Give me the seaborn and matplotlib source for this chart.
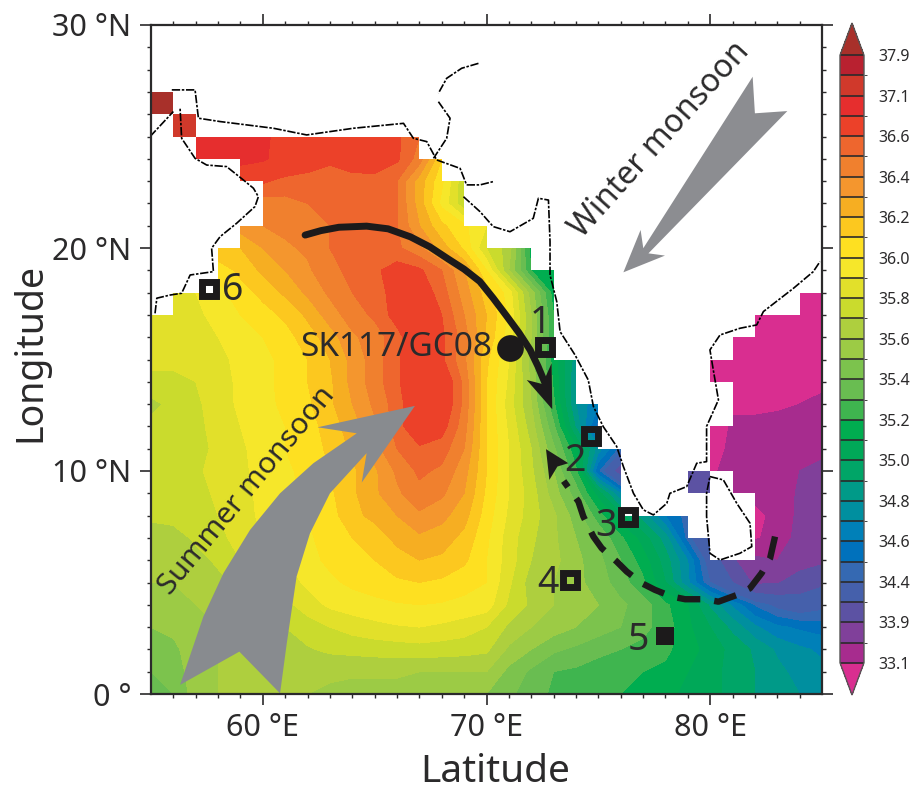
import numpy as np
import seaborn as sns
import matplotlib.pyplot as plt
from matplotlib.colors import ListedColormap, BoundaryNorm

lon_nodes = np.arange(55, 86)
lat_nodes = np.arange(0, 28)

# salinity, one row per degree of latitude, lon 55..85
sal_00 = [35.35,35.40,35.55,35.60,35.62,35.65,35.65,35.60,35.58,35.55,35.55,35.55,35.55,35.52,35.50,35.50,35.42,35.35,35.28,35.25,35.22,35.20,35.15,35.12,35.08,35.02,34.98,34.90,34.85,34.80,34.78]
sal_01 = [35.40,35.45,35.55,35.60,35.63,35.65,35.65,35.63,35.62,35.62,35.62,35.62,35.60,35.60,35.60,35.60,35.47,35.38,35.30,35.28,35.25,35.22,35.20,35.18,35.10,35.03,34.97,34.90,34.83,34.76,34.73]
sal_02 = [35.45,35.48,35.55,35.60,35.62,35.64,35.66,35.69,35.72,35.73,35.74,35.75,35.76,35.75,35.74,35.72,35.58,35.50,35.42,35.38,35.33,35.30,35.27,35.22,35.15,35.05,34.97,34.88,34.78,34.72,34.68]
sal_03 = [35.50,35.52,35.57,35.60,35.63,35.67,35.70,35.75,35.80,35.84,35.87,35.89,35.90,35.88,35.85,35.80,35.68,35.60,35.55,35.50,35.45,35.40,35.33,35.25,35.12,35.00,34.87,34.72,34.62,34.58,34.55]
sal_04 = [35.55,35.55,35.60,35.63,35.68,35.72,35.77,35.85,35.92,35.95,35.97,35.99,36.00,35.99,35.97,35.95,35.78,35.68,35.60,35.56,35.50,35.42,35.35,35.22,35.10,34.88,34.68,34.48,34.35,34.28,34.35]
sal_05 = [35.60,35.60,35.63,35.67,35.73,35.80,35.85,35.92,35.98,36.02,36.05,36.08,36.10,36.08,36.04,36.00,35.82,35.65,35.60,35.53,35.45,35.35,35.22,35.00,34.72,34.40,34.15,33.85,33.88,34.00,34.10]
sal_06 = [35.65,35.62,35.66,35.72,35.80,35.85,35.90,35.97,36.02,36.07,36.10,36.17,36.20,36.18,36.12,36.00,35.85,35.70,35.63,35.53,35.43,35.30,35.15,34.95,34.70,34.30,33.95,33.60,33.50,33.80,33.85]
sal_07 = [35.65,35.65,35.72,35.77,35.84,35.90,35.93,35.98,36.05,36.10,36.16,36.22,36.28,36.25,36.17,36.02,35.85,35.72,35.62,35.50,35.38,35.22,35.05,34.85,34.45,34.10,33.90,33.05,33.25,33.65,33.70]
sal_08 = [35.72,35.74,35.76,35.80,35.86,35.92,35.97,36.00,36.05,36.18,36.22,36.30,36.38,36.33,36.24,36.05,35.88,35.75,35.62,35.45,35.25,35.02,34.85,34.60,34.45,34.20,33.60,33.00,33.20,33.60,33.55]
sal_09 = [35.75,35.76,35.78,35.81,35.86,35.93,35.97,36.02,36.08,36.18,36.28,36.38,36.47,36.42,36.30,36.08,35.90,35.75,35.55,35.35,35.05,34.70,34.70,34.20,34.00,34.00,33.20,33.20,33.30,33.55,33.55]
sal_10 = [35.76,35.77,35.79,35.82,35.88,35.93,35.98,36.03,36.10,36.18,36.28,36.42,36.52,36.48,36.34,36.10,35.90,35.72,35.50,35.22,34.50,34.00,34.00,34.00,33.50,33.05,33.20,33.25,33.30,33.50,33.55]
sal_11 = [35.75,35.75,35.77,35.82,35.88,35.95,36.00,36.05,36.12,36.22,36.36,36.50,36.58,36.55,36.40,36.10,35.90,35.70,35.42,35.12,34.75,34.45,34.00,33.50,33.00,33.00,33.15,33.25,33.30,33.40,33.45]
sal_12 = [35.72,35.72,35.77,35.84,35.90,35.96,36.00,36.05,36.15,36.25,36.38,36.55,36.72,36.65,36.44,36.10,35.88,35.65,35.32,34.88,34.45,34.40,33.50,33.00,33.00,33.00,33.12,33.20,33.20,33.20,33.30]
sal_13 = [35.68,35.72,35.78,35.85,35.92,35.97,36.02,36.08,36.18,36.30,36.42,36.55,36.72,36.72,36.47,36.10,35.85,35.60,35.22,34.80,34.60,34.50,33.50,33.00,33.00,33.00,33.08,33.00,33.05,33.10,33.20]
sal_14 = [35.75,35.75,35.80,35.86,35.92,35.97,36.03,36.10,36.18,36.33,36.45,36.58,36.72,36.72,36.47,36.10,35.88,35.58,35.18,34.80,34.70,34.50,33.50,33.00,33.00,32.90,32.90,32.90,32.90,32.90,33.00]
sal_15 = [35.85,35.85,35.86,35.88,35.92,35.97,36.03,36.10,36.20,36.33,36.45,36.58,36.72,36.62,36.42,36.12,35.90,35.55,35.15,34.85,34.70,34.50,33.50,33.00,33.00,32.90,32.90,32.90,32.90,32.90,32.90]
sal_16 = [35.87,35.87,35.88,35.90,35.96,36.00,36.06,36.15,36.25,36.38,36.45,36.56,36.72,36.62,36.45,36.18,35.95,35.60,35.20,34.90,34.70,34.50,33.50,33.00,33.00,32.90,32.90,32.90,32.90,32.90,32.90]
sal_17 = [35.85,35.86,35.88,35.93,36.00,36.06,36.12,36.22,36.35,36.45,36.52,36.65,36.72,36.60,36.40,36.20,35.98,35.60,35.20,34.90,34.70,34.50,33.50,33.00,33.00,32.90,32.90,32.90,32.90,32.90,32.90]
sal_18 = [35.85,35.85,35.90,35.97,36.05,36.13,36.22,36.32,36.42,36.50,36.55,36.65,36.68,36.55,36.35,36.15,35.95,35.55,35.15,35.00,35.00,35.00,35.00,35.00,35.00,32.90,32.90,32.90,32.90,32.90,32.90]
sal_19 = [36.00,36.00,36.00,36.03,36.13,36.22,36.30,36.38,36.48,36.52,36.58,36.65,36.62,36.50,36.30,36.00,35.60,35.20,35.10,35.00,35.00,35.00,35.00,35.00,35.00,35.00,35.00,35.00,35.00,35.00,35.00]
sal_20 = [36.20,36.20,36.20,36.20,36.20,36.30,36.38,36.42,36.50,36.52,36.54,36.52,36.42,36.25,36.08,35.80,35.65,35.15,35.10,35.00,35.00,35.00,35.00,35.00,35.00,35.00,35.00,35.00,35.00,35.00,35.00]
sal_21 = [36.35,36.35,36.35,36.35,36.35,36.40,36.43,36.48,36.50,36.55,36.56,36.50,36.30,36.12,36.02,35.90,35.65,35.15,35.10,35.00,35.00,35.00,35.00,35.00,35.00,35.00,35.00,35.00,35.00,35.00,35.00]
sal_22 = [36.42,36.42,36.42,36.42,36.42,36.45,36.47,36.50,36.54,36.55,36.56,36.50,36.25,35.97,35.72,35.75,35.65,35.15,35.10,35.00,35.00,35.00,35.00,35.00,35.00,35.00,35.00,35.00,35.00,35.00,35.00]
sal_23 = [36.70,36.70,36.70,36.70,36.60,36.62,36.56,36.55,36.55,36.55,36.56,36.50,36.25,36.02,35.72,35.70,35.65,35.15,35.10,35.00,35.00,35.00,35.00,35.00,35.00,35.00,35.00,35.00,35.00,35.00,35.00]
sal_24 = [36.95,36.95,36.95,36.95,36.95,36.88,36.75,36.68,36.62,36.68,36.68,36.62,36.45,36.10,36.00,35.70,35.65,35.15,35.10,35.00,35.00,35.00,35.00,35.00,35.00,35.00,35.00,35.00,35.00,35.00,35.00]
sal_25 = [37.00,37.00,36.95,36.95,36.95,36.90,36.75,36.70,36.70,36.70,36.70,36.62,36.50,36.05,36.00,35.70,35.65,35.15,35.10,35.00,35.00,35.00,35.00,35.00,35.00,35.00,35.00,35.00,35.00,35.00,35.00]
sal_26 = sal_25
sal_27 = sal_25

# contour levels and the colour of each band, low to high
levels = [33.1,33.5,33.9,34.15,34.4,34.5,34.6,34.7,34.8,34.9,35.0,35.1,35.2,35.3,35.4,35.5,35.6,35.7,35.8,35.9,36.0,36.1,36.2,36.3,36.4,36.5,36.6,36.85,37.1,37.5,37.9]
band_colors = ["#a72c8e","#80409a","#5c52a3","#4560ab","#3569b2","#0071bc","#0080b8","#008f9f","#009a88","#00a567",
               "#00a858","#00ad50","#3fb54f","#69bd51","#7cc34d","#9ccb45","#aecf3e","#cadb2d","#e2e02a","#f6e72a",
               "#fee021","#fcc81f","#f6ae22","#f4962e","#f0802e","#ee662e","#ec4129","#e62e2e","#d0392b","#b92130"]

# sea cells per latitude row, everything else is painted white
sea_cells = {0:[(55,85)],1:[(55,85)],2:[(55,85)],3:[(55,85)],4:[(55,85)],5:[(55,85)],
             6:[(55,80),(82,85)],7:[(55,79),(82,85)],8:[(55,76),(82,85)],9:[(55,76),(81,85)],
             10:[(55,76),(80,85)],11:[(55,75),(80,85)],12:[(55,75),(81,85)],13:[(55,74),(81,85)],
             14:[(55,74),(80,85)],15:[(55,73),(81,85)],16:[(55,73),(82,85)],17:[(56,73),(84,85)],
             18:[(58,73)],19:[(58,72)],20:[(59,70)],21:[(60,69)],22:[(60,69)],23:[(59,68)],24:[(57,67)]}
# isolated one degree cells: lon, lat, salinity
lone_cells = [(55,26,38.2),(56,25,37.3),(79,9,34.0)]

coast_main = [(55.18,17.07),(55.26,17.75),(55.85,17.89),(56.37,17.97),(56.75,18.79),(57.79,18.94),(57.71,19.99),(58.09,20.51),(58.83,21.11),(59.65,21.86),(59.8,22.3),(59.58,22.68),(59.13,23.05),(58.38,23.65),(57.49,23.72),(56.97,24.02),(56.37,24.92),(56.3,26.26)]
coast_oman = [(54.96,25.0),(56.0,26.12)]
coast_makran = [(55.93,27.09),(56.97,27.09),(57.12,25.82),(58.09,25.67),(60.47,25.37),(61.96,25.07),(64.05,25.37),(66.29,25.59),(66.73,24.92),(67.33,24.77),(67.77,23.95),(68.82,23.57),(69.11,22.83),(69.71,22.83),(70.31,22.98)]
coast_india = [(68.97,22.3),(69.71,21.63),(70.3,20.96),(71.05,20.73),(72.09,21.33),(72.32,22.23),(72.77,22.15),(72.84,20.29),(72.84,18.79),(73.14,17.6),(73.29,16.25),(73.96,15.2),(74.55,14.08),(74.78,12.89),(75.22,11.99),(75.82,11.1),(76.12,10.2),(76.57,9.0),(77.01,8.26),(77.46,8.03),(78.06,8.55),(78.2,9.0),(78.95,9.3),(79.4,10.35),(79.84,10.42),(79.84,12.0),(80.37,13.19),(80.14,14.53),(79.99,15.43),(80.44,16.1),(81.33,16.4),(82.08,16.55),(82.38,17.15),(83.72,18.19),(84.61,18.94),(84.91,19.39)]
coast_lanka = [(79.99,9.75),(80.59,9.6),(81.19,8.55),(81.78,7.66),(81.86,6.61),(81.33,6.31),(80.44,6.01),(79.99,6.31),(79.84,7.96),(79.84,9.0),(79.99,9.75)]
coast_indus = [(69.64,28.28),(68.89,28.06),(68.22,27.61),(67.85,26.94)]
coast_indus2 = [(67.85,26.56),(68.37,25.82),(68.22,24.92),(67.63,24.02)]

winter_arrow = [(76.12,18.91),(76.89,20.81),(77.01,19.99),(81.9,27.68),(82.0,26.04),(83.45,26.14),(77.24,19.76),(77.98,19.66)]
summer_arrow = [(66.8,12.92),(62.45,11.96),(64.2,11.69),(62.26,10.35),(60.77,9.0),(59.43,7.36),(58.24,5.42),(57.34,3.47),(56.3,0.41),(58.95,1.9),(60.77,0.03),(61.07,2.27),(61.51,5.27),(62.11,7.21),(63.0,9.0),(64.64,10.8),(64.42,9.48)]
solid_path = [(61.89,20.58),(62.6,20.78),(63.4,20.93),(64.64,20.98),(65.6,20.86),(66.6,20.5),(67.47,20.05),(68.3,19.5),(69.0,19.05),(69.7,18.5),(70.3,17.75),(70.9,16.95),(71.45,16.2),(71.95,15.43),(72.3,14.7),(72.65,13.86)]
solid_head = [(72.94,12.77),(71.8,14.08),(72.5,13.9),(72.91,14.83)]
dashed_path = [(82.9,7.06),(82.68,6.09),(82.3,5.42),(81.78,4.74),(81.19,4.44),(80.37,4.14),(79.77,4.25),(78.88,4.25),(78.28,4.37),(77.53,4.67),(76.94,4.97),(76.27,5.49),(75.82,5.94),(75.15,6.54),(74.78,7.06),(74.33,7.96),(74.11,8.63),(73.45,9.55)]
dashed_head = [(72.66,10.98),(72.81,9.6),(73.17,10.2),(73.66,10.35)]

station_lon = [72.61,74.67,76.32,73.73,57.59]
station_lat = [15.56,11.57,7.94,5.11,18.16]
solid_lon = [77.98]
solid_lat = [2.6]
core_lon = [71.05]
core_lat = [15.5]
number_names = ["1","2","3","4","5","6"]
number_lon = [72.4,73.95,75.35,72.75,76.8,58.65]
number_lat = [16.62,10.47,7.52,4.97,2.43,18.12]

sns.set_style("ticks")
plt.rcParams['font.family'] = ['Noto Sans', 'DejaVu Sans']
ink = "#2b2a2b"

fig = plt.figure(figsize=(9.12, 7.98), dpi=100)
ax = fig.add_axes([151/912, 104/798, 671/912, 669/798])
cax = fig.add_axes([840/912, 103/798, 24/912, 672/798])

salinity = np.array([sal_00,sal_01,sal_02,sal_03,sal_04,sal_05,sal_06,sal_07,sal_08,sal_09,
                     sal_10,sal_11,sal_12,sal_13,sal_14,sal_15,sal_16,sal_17,sal_18,sal_19,
                     sal_20,sal_21,sal_22,sal_23,sal_24,sal_25,sal_26,sal_27])

cmap = ListedColormap(band_colors)
cmap.set_under("#d92e90")
cmap.set_over("#a8302a")
norm = BoundaryNorm(levels, len(band_colors))
field = ax.contourf(lon_nodes, lat_nodes, salinity, levels=levels, cmap=cmap, norm=norm, extend='both', zorder=1)

# blocky land mask on top of the smooth field
lon_edges = np.arange(55, 86)
lat_edges = np.arange(0, 31)
land = np.ones((30, 30))
for row, spans in sea_cells.items():
    for start, end in spans:
        land[row, start-55:end-55] = np.nan
ax.pcolormesh(lon_edges, lat_edges, np.ma.masked_invalid(land), cmap=ListedColormap(["white"]), zorder=2, linewidth=0, antialiased=False)

lone = np.full((30, 30), np.nan)
for cell_lon, cell_lat, value in lone_cells:
    lone[cell_lat, cell_lon-55] = value
ax.pcolormesh(lon_edges, lat_edges, np.ma.masked_invalid(lone), cmap=cmap, norm=norm, zorder=3, linewidth=0, antialiased=False)

for segment in [coast_main, coast_oman, coast_makran, coast_india, coast_lanka, coast_indus, coast_indus2]:
    pts = np.array(segment)
    sns.lineplot(x=pts[:, 0], y=pts[:, 1], sort=False, estimator=None, color="black", linewidth=1.2,
                 linestyle=(0, (5, 1, 1.5, 1)), ax=ax, zorder=4)

ax.fill(*np.array(winter_arrow).T, color="#8c8d91", lw=0, zorder=5)
ax.fill(*np.array(summer_arrow).T, color="#888b8f", lw=0, zorder=5)

pts = np.array(solid_path)
sns.lineplot(x=pts[:, 0], y=pts[:, 1], sort=False, estimator=None, color="#1c1a1b", linewidth=5.0, ax=ax, zorder=6)
ax.fill(*np.array(solid_head).T, color="#1c1a1b", lw=0, zorder=6)
pts = np.array(dashed_path)
sns.lineplot(x=pts[:, 0], y=pts[:, 1], sort=False, estimator=None, color="#1c1a1b", linewidth=4.6,
             linestyle=(0, (3.6, 2.2)), ax=ax, zorder=6)
ax.fill(*np.array(dashed_head).T, color="#1c1a1b", lw=0, zorder=6)

sns.scatterplot(x=station_lon, y=station_lat, marker='s', s=100, facecolor='none', edgecolor="#1c1a1b", linewidth=5.0, ax=ax, zorder=7)
ax.collections[-1].set_joinstyle('miter')
sns.scatterplot(x=solid_lon, y=solid_lat, marker='s', s=150, color="#1c1a1b", linewidth=0, ax=ax, zorder=7)
sns.scatterplot(x=core_lon, y=core_lat, marker='o', s=370, color="#1c1a1b", linewidth=0, ax=ax, zorder=7)

for name, x, y in zip(number_names, number_lon, number_lat):
    ax.text(x, y, name, fontsize=27, color=ink, ha='center', va='center', zorder=8)
ax.text(65.95, 15.55, "SK117/GC08", fontsize=24, color=ink, ha='center', va='center', zorder=8)
ax.text(77.75, 24.85, "Winter monsoon", fontsize=23, color=ink, rotation=48, ha='center', va='center', rotation_mode='anchor', zorder=8)
ax.text(59.3, 9.1, "Summer monsoon", fontsize=21.5, color=ink, rotation=50.5, ha='center', va='center', rotation_mode='anchor', zorder=8)

ax.set_xlim(55, 85)
ax.set_ylim(0, 30)
ax.set_xticks([60, 70, 80], ["60 °E", "70 °E", "80 °E"])
ax.set_yticks([0, 10, 20, 30], ["0 °", "10 °N", "20 °N", "30 °N"])
ax.set_xticks(np.arange(56, 85), minor=True)
ax.set_yticks(np.arange(1, 30), minor=True)
ax.tick_params(which='major', direction='out', length=8, width=1.2, color=ink, labelsize=22, labelcolor=ink, top=True, right=True, pad=6)
ax.tick_params(which='minor', direction='out', length=3, width=1.0, color=ink, top=True, right=True)
for spine in ax.spines.values():
    spine.set_visible(True)
    spine.set_linewidth(1.6)
    spine.set_color(ink)
    spine.set_zorder(9)
ax.set_xlabel("Latitude", fontsize=28, color=ink, va='center')
ax.set_ylabel("Longitude", fontsize=27, color=ink, va='center')
ax.xaxis.set_label_coords((495-151)/671, -(772-694)/669)
ax.yaxis.set_label_coords((30-151)/671, (694-352)/669)

cbar = fig.colorbar(field, cax=cax, ticks=levels[::2], spacing='uniform', drawedges=True, extendfrac=0.053, format='%.1f')
cbar.ax.tick_params(length=0, labelsize=11.5, labelcolor=ink, pad=10)
cbar.outline.set_edgecolor("#555555")
cbar.outline.set_linewidth(1.0)
cbar.dividers.set_color(ink)
cbar.dividers.set_linewidth(1.2)

fig.savefig("out.png", dpi=100)
